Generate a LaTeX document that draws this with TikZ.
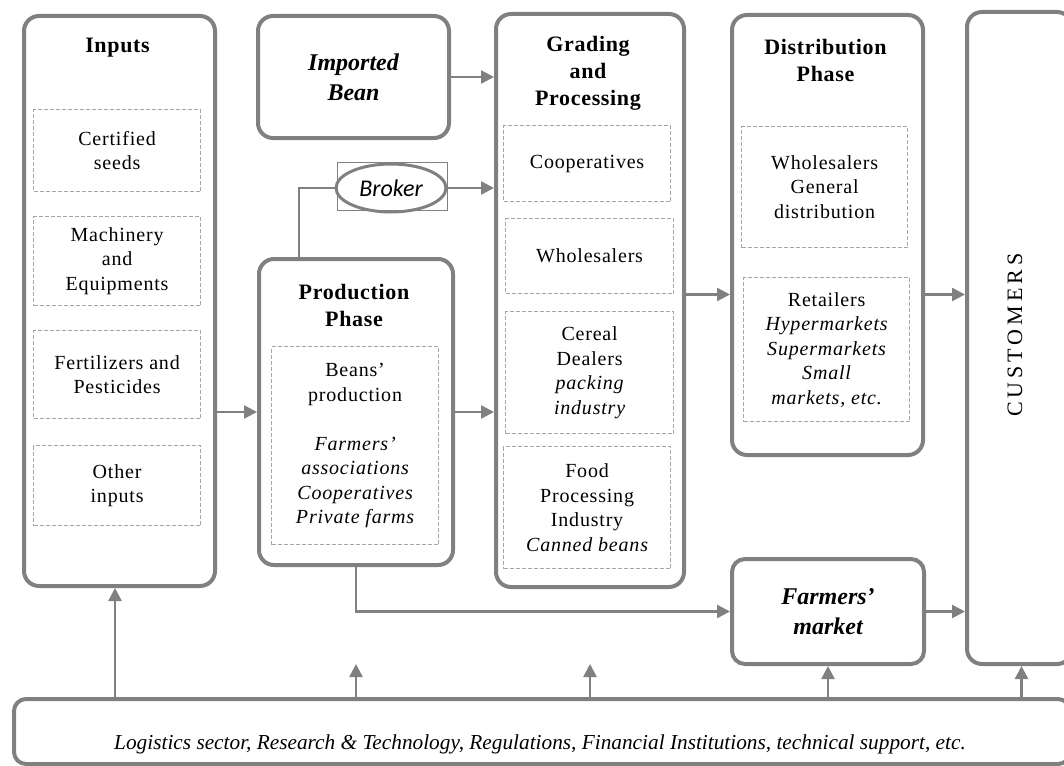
\documentclass[tikz,border=0pt]{standalone}
\usepackage{fontspec}
\setmainfont{Liberation Serif}
\newfontfamily\bodyfont[LetterSpace=4]{Liberation Serif}
\newfontfamily\headfont[LetterSpace=3]{Liberation Serif}
\newfontfamily\capsfont[LetterSpace=18]{Liberation Serif}
\newfontfamily\brokerfont{Carlito}
\usetikzlibrary{arrows.meta,shapes.geometric,calc}
\definecolor{frame}{RGB}{128,128,128}
\definecolor{dashgray}{RGB}{165,165,165}

\tikzset{
  stage/.style={draw=frame, line width=4pt, rounded corners=15pt, anchor=north west, inner sep=0pt},
  subbox/.style={draw=dashgray, line width=1.2pt, dash pattern=on 4pt off 2pt, anchor=north west,
    align=center, inner sep=0pt, font=\bodyfont\fontsize{20}{24.5}\selectfont},
  heading/.style={align=center, font=\headfont\bfseries\fontsize{22}{27}\selectfont},
  flow/.style={draw=frame, line width=2.4pt, -{Triangle[length=13pt,width=13pt]}},
  link/.style={draw=frame, line width=2.4pt},
}

\begin{document}
\begin{tikzpicture}[x=1pt,y=-1pt]
\useasboundingbox (0,0) rectangle (1064,765);
\clip (0,0) rectangle (1064,765);
\fill[white] (0,0) rectangle (1064,765);

% main stages
\node[stage, minimum width=191pt, minimum height=570pt] (inputs) at (22,14) {};
\node[stage, minimum width=191pt, minimum height=122pt] (imported) at (256,14) {};
\node[stage, minimum width=194pt, minimum height=306pt] (prod) at (257,257) {};
\node[stage, minimum width=188pt, minimum height=573pt] (grading) at (494,12) {};
\node[stage, minimum width=191pt, minimum height=440pt] (dist) at (730,13) {};
\node[stage, minimum width=192pt, minimum height=105pt, rounded corners=13pt] (fm) at (730,557) {};
\node[stage, minimum width=105pt, minimum height=652pt] (cust) at (965,10) {};
\node[stage, minimum width=1056pt, minimum height=65pt, rounded corners=12pt] (bar) at (12,697) {};

% headings
\node[heading] (inputsT) at (117.5,48) {Inputs};
\node[heading] (gradingT) at (588,73) {Grading\\and\\Processing};
\node[heading] (distT) at (825.5,60) {Distribution\\Phase};
\node[heading] (prodT) at (354,305) {Production\\Phase};
\node[align=center, font=\bfseries\itshape\fontsize{24}{30}\selectfont] (importedT) at (imported.center) {Imported\\Bean};
\node[align=center, font=\bfseries\itshape\fontsize{24}{30}\selectfont] (fmT) at (fm.center) {Farmers’\\market};
\node[rotate=90, font=\capsfont\fontsize{22}{26}\selectfont] (custT) at (1015,335) {CUSTOMERS};

% inputs
\node[subbox, minimum width=167pt, minimum height=82pt] (seeds) at (33,109) {Certified\\seeds};
\node[subbox, minimum width=167pt, minimum height=89pt] (mach) at (33,216) {Machinery\\and\\Equipments};
\node[subbox, minimum width=167pt, minimum height=88pt] (fert) at (33,330) {Fertilizers and\\Pesticides};
\node[subbox, minimum width=167pt, minimum height=80pt] (other) at (33,445) {Other\\inputs};

% production
\node[subbox, minimum width=167pt, minimum height=198pt] (beans) at (271,346)
  {Beans’\\production\\[24.5pt]\itshape Farmers’\\\itshape associations\\\itshape Cooperatives\\\itshape Private farms};

% grading and processing
\node[subbox, minimum width=167pt, minimum height=76pt] (coop) at (503,125) {Cooperatives};
\node[subbox, minimum width=168pt, minimum height=75pt] (whole) at (505,218) {Wholesalers};
\node[subbox, minimum width=168pt, minimum height=122pt] (cereal) at (505,311)
  {Cereal\\Dealers\\\itshape packing\\\itshape industry};
\node[subbox, minimum width=167pt, minimum height=122pt] (food) at (503,446)
  {Food\\Processing\\Industry\\\itshape Canned beans};

% distribution
\node[subbox, minimum width=166pt, minimum height=121pt] (gendist) at (741,126)
  {Wholesalers\\General\\distribution};
\node[subbox, minimum width=166pt, minimum height=144pt] (retail) at (743,277)
  {Retailers\\\itshape Hypermarkets\\\itshape Supermarkets\\\itshape Small\\\itshape markets, etc.};

% broker
\node[draw=frame, line width=0.8pt, minimum width=110pt, minimum height=48pt, inner sep=0pt] (brokerbox) at (392,186) {};
\node[ellipse, draw=frame, line width=3pt, minimum width=110pt, minimum height=48pt, inner sep=0pt,
  font=\brokerfont\itshape\fontsize{24}{28}\selectfont] (broker) at (391,188) {Broker};

% support sector
\node[anchor=base, font=\itshape\fontsize{21.3}{25}\selectfont] (barT) at (540,749)
  {Logistics sector, Research \& Technology, Regulations, Financial Institutions, technical support, etc.};

% flows
\draw[flow] (inputs.east |- prod.west) -- (prod.west);
\draw[flow] (prod.east) -- (prod.east -| grading.west);
\draw[flow] (imported.east) -- (imported.east -| grading.west);
\draw[flow] (broker.east) -- (broker.east -| grading.west);
\draw[link] ([xshift=-57pt]prod.north) |- (broker.west);
\draw[flow] ([yshift=6pt]grading.east) -- ([yshift=6pt]grading.east -| dist.west);
\draw[flow] ([yshift=6pt]grading.east -| dist.east) -- ([yshift=6pt]grading.east -| cust.west);
\draw[flow] (prod.south) |- (fm.west);
\draw[flow] (fm.east) -- (fm.east -| cust.west);

% support arrows
\draw[flow] ([xshift=-4.5pt]inputs.south |- bar.north) -- ([xshift=-4.5pt]inputs.south);
\draw[flow] (prod.south |- bar.north) -- ++(0,-33);
\draw[flow] (grading.south |- bar.north) -- ++(0,-33);
\draw[flow] (fm.south |- bar.north) -- (fm.south);
\draw[flow] ([xshift=2pt]cust.south |- bar.north) -- ([xshift=2pt]cust.south);
\end{tikzpicture}
\end{document}
